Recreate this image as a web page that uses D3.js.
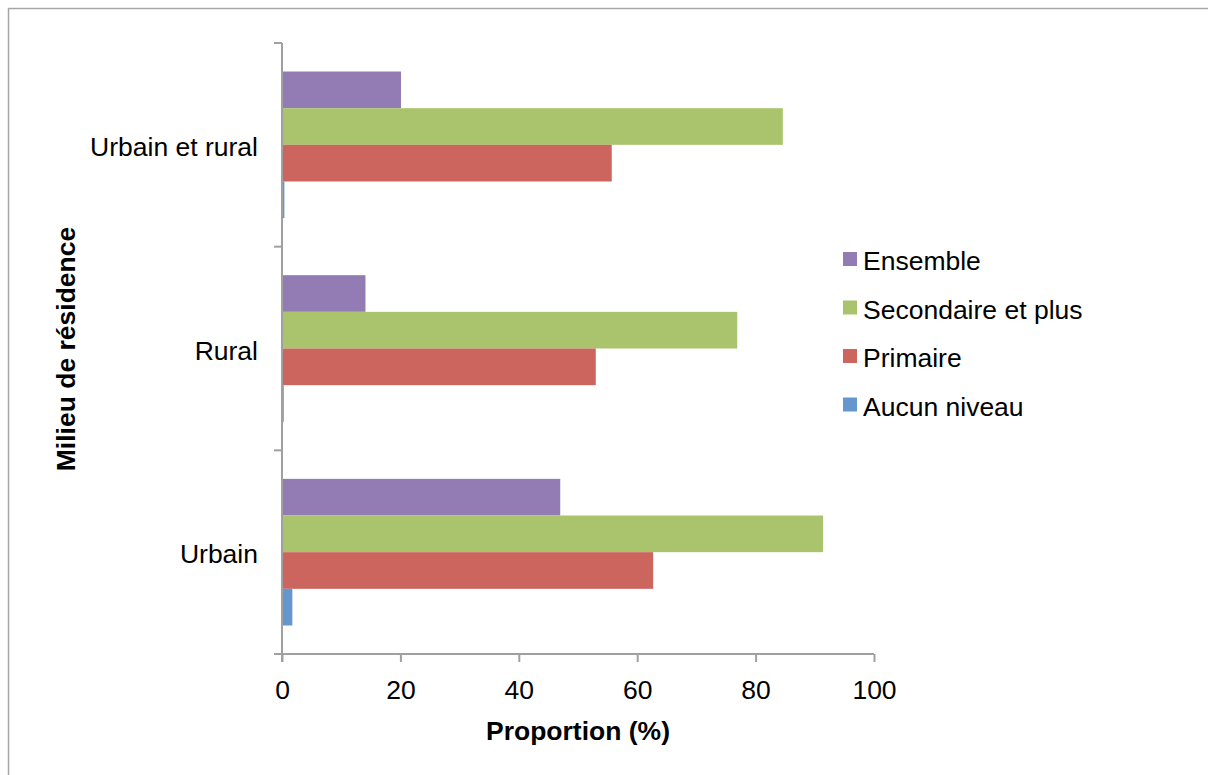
<!DOCTYPE html>
<html><head><meta charset="utf-8">
<script src="https://cdn.jsdelivr.net/npm/d3@7"></script>
<style>body{margin:0;background:#fff}svg{display:block}text{font-family:"Liberation Sans",Arial,sans-serif}</style>
</head><body><svg id="c" width="1208" height="775"></svg>
<script>
const categories = ["Urbain et rural", "Rural", "Urbain"];
const seriesNames = ["Ensemble", "Secondaire et plus", "Primaire", "Aucun niveau"];
const ensemble = [20.1, 14.1, 47.0];
const secondaire = [84.6, 76.9, 91.4];
const primaire = [55.7, 53.0, 62.7];
const aucun = [0.4, 0.3, 1.75];
const colors = ["#937CB3", "#AAC46D", "#CC655E", "#6497CD"];
const xTicks = [0, 20, 40, 60, 80, 100];

(function () {
const FS = 26.5;
const series = [ensemble, secondaire, primaire, aucun];
const svg = d3.select("#c");
const W = 1208, H = 775;
svg.append("rect").attr("x", 8.5).attr("y", 8.5).attr("width", W + 10).attr("height", H + 10)
  .attr("fill", "#fff").attr("stroke", "#a6a6a6").attr("stroke-width", 1.5);

const pL = 282, pR = 874, pT = 43, pB = 654;
const x = d3.scaleLinear().domain([0, 100]).range([pL, pR]);
const y = d3.scaleBand().domain(categories).range([pT, pB]).padding(0);
const inner = d3.scaleBand().domain(seriesNames)
  .range([y.bandwidth() * 0.14, y.bandwidth() * 0.86]).padding(0);

const g = svg.append("g");
categories.forEach((c, ci) => {
  seriesNames.forEach((s, si) => {
    g.append("rect")
      .attr("x", x(0))
      .attr("y", y(c) + inner(s))
      .attr("width", x(series[si][ci]) - x(0))
      .attr("height", inner.bandwidth())
      .attr("fill", colors[si]);
  });
});

const axisColor = "#a0a0a0";
const xa = svg.append("g").attr("transform", `translate(0,${pB})`)
  .call(d3.axisBottom(x).tickValues(xTicks).tickSize(8).tickSizeOuter(0).tickPadding(18));
xa.select(".domain").attr("stroke", axisColor).attr("stroke-width", 2).attr("d", `M${pL - 8},0H${pR}`);
xa.selectAll(".tick line").attr("stroke", axisColor).attr("stroke-width", 2);
xa.selectAll(".tick text").attr("font-size", FS).attr("fill", "#000")
  .attr("font-family", "Liberation Sans, Arial, sans-serif");

const ya = svg.append("g").attr("transform", `translate(${pL},0)`);
ya.append("line").attr("x1", 0).attr("x2", 0).attr("y1", pT).attr("y2", pB + 8)
  .attr("stroke", axisColor).attr("stroke-width", 2);
const yEdges = [pT, ...categories.map(c => y(c) + y.bandwidth())];
yEdges.forEach(v => ya.append("line").attr("x1", -8).attr("x2", 0).attr("y1", v).attr("y2", v)
  .attr("stroke", axisColor).attr("stroke-width", 2));
categories.forEach(c => ya.append("text").attr("x", -24).attr("y", y(c) + y.bandwidth() / 2 + 2)
  .attr("text-anchor", "end").attr("dominant-baseline", "central").attr("font-size", FS).text(c));

svg.append("text").attr("x", 578).attr("y", 740).attr("text-anchor", "middle")
  .attr("font-size", FS).attr("font-weight", "bold").text("Proportion (%)");
svg.append("text").attr("transform", "translate(66,349) rotate(-90)").attr("text-anchor", "middle")
  .attr("dominant-baseline", "central")
  .attr("font-size", FS).attr("font-weight", "bold").text("Milieu de résidence");

const lg = svg.append("g");
seriesNames.forEach((s, i) => {
  const cy = 259 + i * 48.5;
  lg.append("rect").attr("x", 843).attr("y", cy - 7).attr("width", 14).attr("height", 14).attr("fill", colors[i]);
  lg.append("text").attr("x", 863).attr("y", cy + 2).attr("dominant-baseline", "central")
    .attr("font-size", FS).text(s);
});
})();
</script></body></html>
